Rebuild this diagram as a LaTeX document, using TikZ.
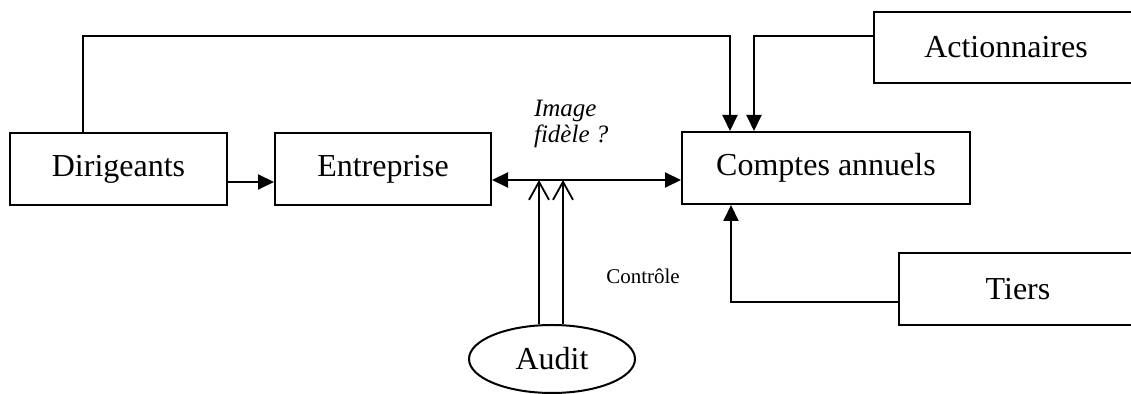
\documentclass[tikz,border=0pt]{standalone}
\usepackage{fontspec}
\setmainfont{Liberation Serif}
\usetikzlibrary{arrows.meta,shapes.geometric,calc}

\tikzset{
    boite/.style={draw, line width=1pt, inner sep=0pt, minimum height=36pt, font=\fontsize{16}{19}\selectfont},
    fleche/.style={line width=1pt, -{Triangle[length=8pt,width=7.5pt]}},
    double fleche/.style={line width=1pt, {Triangle[length=8pt,width=7.5pt]}-{Triangle[length=8pt,width=7.5pt]}},
    controle/.style={line width=0.9pt, -{Straight Barb[length=9pt,width=10pt,line width=0.9pt]}},
}

\begin{document}
\begin{tikzpicture}[x=0.5pt, y=-0.5pt]
        \useasboundingbox (0,0) rectangle (1131,394);
        \clip (0,0) rectangle (1131,394);

        \node[boite, minimum width=108.5pt] (dir) at (118.5,169) {Dirigeants};
        \node[boite, minimum width=108pt] (ent) at (383,169) {Entreprise};
        \node[boite, minimum width=144pt] (comptes) at (826,168) {Comptes annuels};
        \node[boite, minimum width=132pt, minimum height=35.5pt] (action) at (1006,47.5) {Actionnaires};
        \node[boite, minimum width=119pt] (tiers) at (1018,289) {Tiers};
        \node[ellipse, draw, line width=1pt, inner sep=0pt, minimum width=83pt, minimum height=34pt,
              font=\fontsize{16}{19}\selectfont] (audit) at (552,359) {Audit};

        \node[anchor=west, align=left, font=\fontsize{12.5}{13}\selectfont\itshape] (img) at (527,124) {Image\\fidèle ?};
        \node[font=\fontsize{10.5}{12}\selectfont] (ctrl) at (643,276) {Contrôle};

        \coordinate (g) at ([yshift=-5.5pt]ent.east);

        \draw[fleche] ([yshift=-6.5pt]dir.east) -- ([yshift=-6.5pt]ent.west);
        \draw[double fleche] (g) -- (g -| comptes.west);

        \draw[controle] ([xshift=-6.5pt]audit.north) -- ([xshift=-6.5pt]audit.north |- g);
        \draw[controle] ([xshift=5.5pt]audit.north) -- ([xshift=5.5pt]audit.north |- g);

        \draw[fleche] ([xshift=-17.75pt]dir.north) -- ++(0,-96) -| ([xshift=-48pt]comptes.north);
        \draw[fleche] ([yshift=5.75pt]action.west) -| ([xshift=-36pt]comptes.north);
        \draw[fleche] ([yshift=-6.5pt]tiers.west) -| ([xshift=-47.5pt]comptes.south);
    \end{tikzpicture}
\end{document}
